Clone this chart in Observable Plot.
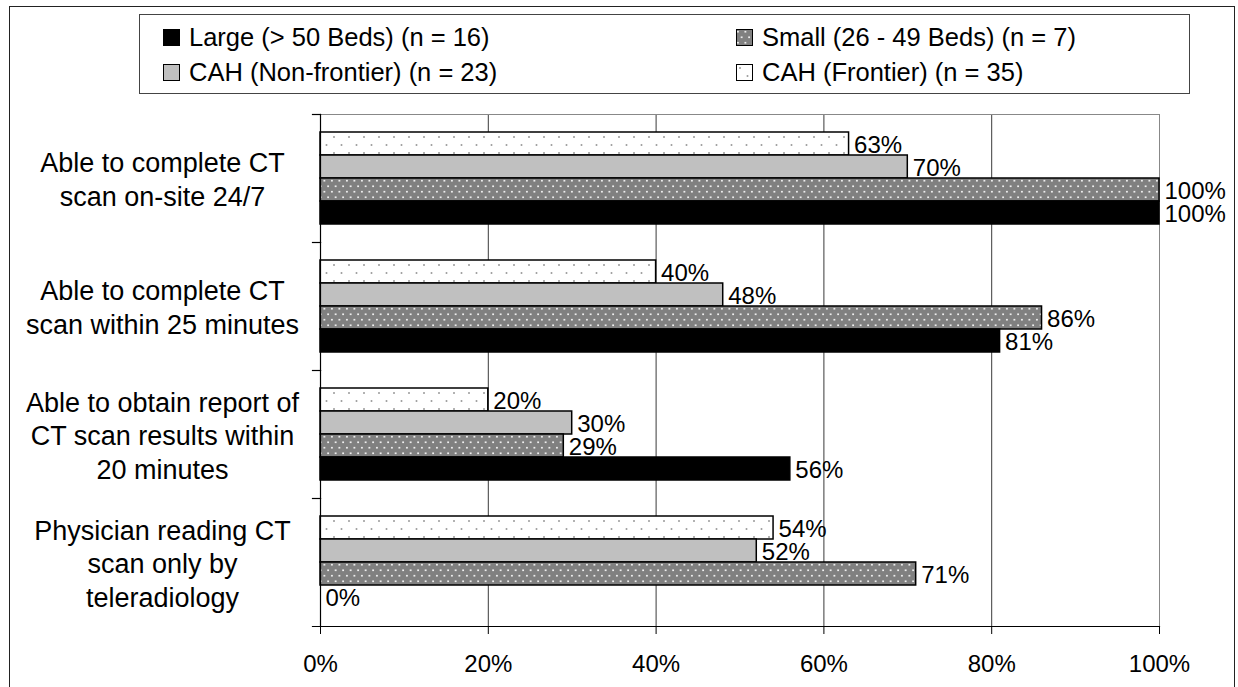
<!DOCTYPE html>
<html>
<head>
<meta charset="utf-8">
<script src="https://cdn.jsdelivr.net/npm/d3@7"></script>
<script src="https://cdn.jsdelivr.net/npm/@observablehq/plot@0.6"></script>
<style>
  body { margin: 0; background: #fff; font-family: "Liberation Sans", Arial, sans-serif; }
  #wrap { position: relative; width: 1238px; height: 687px; overflow: hidden; background: #fff; }
  #outer { position: absolute; left: 9px; top: 6px; width: 1226px; height: 692px; border: 1.5px solid #222; box-sizing: border-box; }
  #legend { position: absolute; left: 139px; top: 14px; width: 1051px; height: 80px; border: 1.5px solid #444; box-sizing: border-box; }
  .item { position: absolute; height: 30px; display: flex; align-items: center; font-size: 25.5px; white-space: nowrap; color: #000; }
  .item svg { margin-right: 9px; }
  #chart { position: absolute; left: 0; top: 100px; }
  #defs { position: absolute; width: 0; height: 0; }
</style>
</head>
<body>
<svg id="defs" width="0" height="0">
  <defs>
    <pattern id="pSmall" patternUnits="userSpaceOnUse" width="7.5" height="11">
      <rect width="7.5" height="11" fill="#808080"></rect>
      <circle cx="1.9" cy="2.75" r="0.9" fill="#ffffff"></circle>
      <circle cx="5.65" cy="8.25" r="0.9" fill="#ffffff"></circle>
    </pattern>
    <pattern id="pFrontier" patternUnits="userSpaceOnUse" width="15" height="16">
      <rect width="15" height="16" fill="#ffffff"></rect>
      <circle cx="4" cy="4" r="1" fill="#9a9a9a"></circle>
      <circle cx="11.5" cy="12" r="1" fill="#9a9a9a"></circle>
    </pattern>
  </defs>
</svg>
<div id="wrap">
  <div id="outer"></div>
  <div id="legend"></div>
  <div id="chart"></div>
</div>
<script>
// ---- data ----
const categories = [
  "Able to complete CT\nscan on-site 24/7",
  "Able to complete CT\nscan within 25 minutes",
  "Able to obtain report of\nCT scan results within\n20 minutes",
  "Physician reading CT\nscan only by\nteleradiology"
];
const seriesKeys = ["Frontier", "NonFrontier", "Small", "Large"];
const seriesLabels = {
  Large: "Large (> 50 Beds) (n = 16)",
  Small: "Small (26 - 49 Beds) (n = 7)",
  NonFrontier: "CAH (Non-frontier) (n = 23)",
  Frontier: "CAH (Frontier) (n = 35)"
};
const frontier = [63, 40, 20, 54];
const nonFrontier = [70, 48, 30, 52];
const small = [100, 86, 29, 71];
const large = [100, 81, 56, 0];
const xTicks = [0, 20, 40, 60, 80, 100];
const gridTicks = [20, 40, 60, 80];
const legendOrder = ["Large", "Small", "NonFrontier", "Frontier"];

const fills = {
  Frontier: "url(#pFrontier)",
  NonFrontier: "#c0c0c0",
  Small: "url(#pSmall)",
  Large: "#000000"
};

const seriesValues = {Frontier: frontier, NonFrontier: nonFrontier, Small: small, Large: large};
const rows = [];
categories.forEach((c, i) => {
  seriesKeys.forEach(k => rows.push({cat: c, key: k, value: seriesValues[k][i]}));
});

// ---- legend ----
const legendPos = {
  Large: {left: 163, top: 22},
  Small: {left: 736, top: 22},
  NonFrontier: {left: 163, top: 57},
  Frontier: {left: 736, top: 57}
};
const wrap = document.getElementById("wrap");
legendOrder.forEach(k => {
  const d = document.createElement("div");
  d.className = "item";
  d.style.left = legendPos[k].left + "px";
  d.style.top = legendPos[k].top + "px";
  d.innerHTML = `<svg width="17" height="17"><rect x="0.5" y="0.5" width="16" height="16" fill="${fills[k]}" stroke="#000" stroke-width="1"></rect></svg><span>${seriesLabels[k]}</span>`;
  wrap.appendChild(d);
});

// ---- chart ----
const W = 1238, H = 587, ML = 320, MR = 79, MT = 13, MB = 60;
const plotW = W - ML - MR;

const chart = Plot.plot({
  width: W,
  height: H,
  marginLeft: ML,
  marginRight: MR,
  marginTop: MT,
  marginBottom: MB,
  style: {fontFamily: "'Liberation Sans', Arial, sans-serif", background: "transparent", overflow: "visible", color: "#000"},
  x: {domain: [0, 100], label: null},
  y: {domain: seriesKeys, paddingInner: 0, paddingOuter: 0.72, axis: null},
  fy: {domain: categories, padding: 0, axis: null},
  color: {domain: seriesKeys, range: seriesKeys.map(k => fills[k])},
  marks: [
    Plot.gridX(gridTicks, {stroke: "#3a3a3a", strokeOpacity: 1, strokeWidth: 1}),
    Plot.ruleX([100], {stroke: "#888", strokeWidth: 1}),
    Plot.frame({anchor: "top", stroke: "#888", strokeWidth: 1, fy: categories[0]}),
    Plot.barX(rows, {
      filter: d => d.value > 0,
      fy: "cat", y: "key", x: "value", fill: "key",
      stroke: "#000", strokeWidth: 1.5
    }),
    Plot.frame({anchor: "left", stroke: "#000", strokeWidth: 1.2}),
    Plot.frame({anchor: "top", stroke: "#000", strokeWidth: 1.2, insetLeft: -8, insetRight: plotW}),
    Plot.frame({anchor: "bottom", stroke: "#000", strokeWidth: 1.2, insetLeft: -8, fy: categories[categories.length - 1]}),
    Plot.text(rows, {
      fy: "cat", y: "key", x: "value",
      text: d => d.value + "%",
      textAnchor: "start", dx: 5, dy: 1,
      fontSize: 24, fill: "#000"
    }),
    Plot.text(categories, {
      fy: d => d, text: d => d,
      frameAnchor: "left", dx: -158,
      textAnchor: "middle", fontSize: 27, lineHeight: 1.24, fill: "#000"
    }),
    Plot.axisX(xTicks, {
      tickSize: 8, tickPadding: 20, fontSize: 24, label: null,
      tickFormat: d => d + "%"
    })
  ]
});
document.getElementById("chart").appendChild(chart);
</script>
</body>
</html>
